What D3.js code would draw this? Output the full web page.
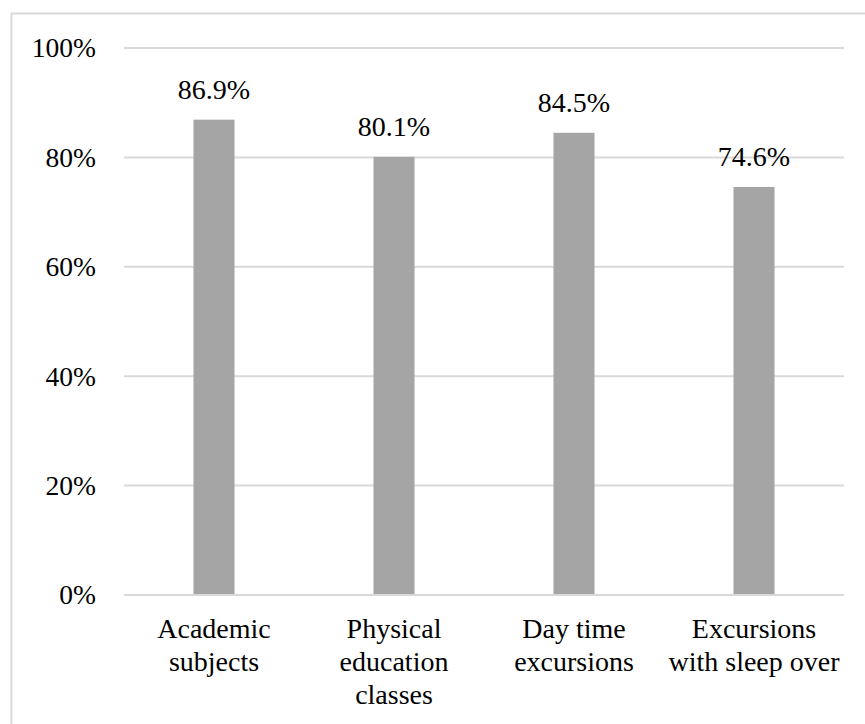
<!DOCTYPE html>
<html>
<head>
<meta charset="utf-8">
<script src="https://cdn.jsdelivr.net/npm/d3@7/dist/d3.min.js"></script>
<style>
  html, body { margin: 0; padding: 0; background: #fff; }
  svg { display: block; }
</style>
</head>
<body>
<svg id="chart" width="865" height="724"></svg>
<script>
// Share of respondents per activity
const categories = ["Academic subjects", "Physical education classes", "Day time excursions", "Excursions with sleep over"];
const categoryLines = [
  ["Academic", "subjects"],
  ["Physical", "education", "classes"],
  ["Day time", "excursions"],
  ["Excursions", "with sleep over"]
];
const values = [86.9, 80.1, 84.5, 74.6];
const yTicks = [0, 20, 40, 60, 80, 100];

const FAMILY = "'Liberation Serif', 'Times New Roman', serif";
const FONT_TICK = "27.5px " + FAMILY;
const FONT_LABEL = "28px " + FAMILY;

const svg = d3.select("#chart");
const W = 865, H = 724;
const margin = { top: 48, right: 21, bottom: 129, left: 124 };
const plotW = W - margin.left - margin.right;
const plotH = H - margin.top - margin.bottom;

// outer frame
svg.append("rect")
  .attr("x", 11.5).attr("y", 13.5)
  .attr("width", 860).attr("height", 720)
  .attr("fill", "none").attr("stroke", "#d9d9d9").attr("stroke-width", 2);

const g = svg.append("g").attr("transform", `translate(${margin.left},${margin.top})`);

const x = d3.scaleBand().domain(categories).range([0, plotW]).paddingInner(0.772).paddingOuter(0.386);
const y = d3.scaleLinear().domain([0, 100]).range([plotH, 0]);

// gridlines
g.append("g").selectAll("line").data(yTicks.filter(t => t > 0)).join("line")
  .attr("x1", 0).attr("x2", plotW)
  .attr("y1", d => y(d)).attr("y2", d => y(d))
  .attr("stroke", "#d9d9d9").attr("stroke-width", 2);

// y axis labels
const yAxis = d3.axisLeft(y).tickValues(yTicks).tickFormat(d => d + "%").tickSize(0).tickPadding(28);
const ya = g.append("g").call(yAxis);
ya.attr("font-family", null).attr("font-size", null);
ya.select(".domain").remove();
ya.selectAll("text").attr("fill", "#000").style("font", FONT_TICK);

// bars
g.append("g").selectAll("rect").data(values).join("rect")
  .attr("x", (d, i) => x(categories[i]))
  .attr("width", x.bandwidth())
  .attr("y", d => y(d))
  .attr("height", d => plotH - y(d))
  .attr("fill", "#a5a5a5");

// x axis baseline
g.append("line")
  .attr("x1", 0).attr("x2", plotW)
  .attr("y1", plotH).attr("y2", plotH)
  .attr("stroke", "#d9d9d9").attr("stroke-width", 2);

// value labels
g.append("g").selectAll("text").data(values).join("text")
  .attr("x", (d, i) => x(categories[i]) + x.bandwidth() / 2)
  .attr("y", d => y(d) - 21)
  .attr("text-anchor", "middle")
  .style("font", FONT_LABEL)
  .attr("fill", "#000")
  .text(d => d.toFixed(1) + "%");

// category labels
const cl = g.append("g").selectAll("text").data(categoryLines).join("text")
  .attr("text-anchor", "middle")
  .style("font", FONT_LABEL)
  .attr("fill", "#000")
  .attr("transform", (d, i) => `translate(${x(categories[i]) + x.bandwidth() / 2},${plotH + 43})`);
cl.selectAll("tspan").data(d => d).join("tspan")
  .attr("x", 0)
  .attr("dy", (d, i) => i === 0 ? 0 : 33)
  .text(d => d);
</script>
</body>
</html>
